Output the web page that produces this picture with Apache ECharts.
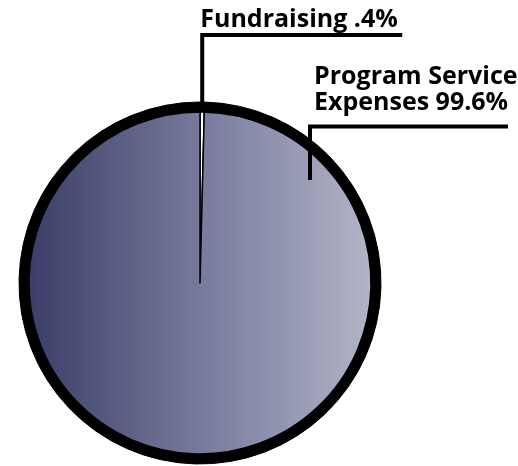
<!DOCTYPE html>
<html>
<head>
<meta charset="utf-8">
<script src="https://cdn.jsdelivr.net/npm/echarts@6/dist/echarts.min.js"></script>
<style>
html,body{margin:0;padding:0;background:#fff;}
#chart{width:518px;height:466px;}
</style>
</head>
<body>
<div id="chart"></div>
<script>
// ---- data ----
const categories = ['Fundraising', 'Program Service Expenses'];
const percents = [0.4, 99.6];
const labelTexts = ['Fundraising .4%', 'Program Service\nExpenses 99.6%'];

// ---- layout constants ----
const CX = 200, CY = 283;       // pie centre (px)
const R_FILL = 171;             // fill radius
const R_RING_IN = 170, R_RING_OUT = 181;

const chart = echarts.init(document.getElementById('chart'), null, {renderer: 'canvas'});

const total = percents.reduce((a, b) => a + b, 0);
function midAngle(i) {
  let cum = 0;
  for (let k = 0; k < i; k++) cum += percents[k];
  return ((cum + percents[i] / 2) / total) * 2 * Math.PI; // clockwise from top
}
function edgePoint(i, r) {
  const a = midAngle(i);
  return [CX + r * Math.sin(a), CY - r * Math.cos(a)];
}

const fillGradient = new echarts.graphic.LinearGradient(0, 0, 1, 0, [
  {offset: 0, color: '#3a3e68'},
  {offset: 0.5, color: '#777a9c'},
  {offset: 1, color: '#b2b4c7'}
]);
const sliceColors = ['#ffffff', fillGradient];

const labelFont = {
  fontFamily: '"Open Sans", sans-serif',
  fontWeight: 'bold',
  fontSize: 25,
  lineHeight: 26,
  color: '#000'
};

function layoutLabel(params) {
  const i = params.dataIndex;
  if (i === 0) {
    const p = edgePoint(0, R_RING_OUT - 4);
    const yLine = 35;
    return {
      x: p[0] - 2, y: yLine - 2, align: 'left', verticalAlign: 'bottom',
      labelLinePoints: [[p[0], p[1]], [p[0], yLine], [p[0] + 200, yLine]]
    };
  } else {
    const ax = CX + 110, ay = CY - 103;
    const yLine = 126.5;
    return {
      x: ax + 4, y: yLine - 11, align: 'left', verticalAlign: 'bottom',
      labelLinePoints: [[ax, ay], [ax, yLine], [ax + 198, yLine]]
    };
  }
}

const baseSeries = {
  type: 'pie',
  center: [CX, CY],
  startAngle: 90,
  clockwise: true,
  avoidLabelOverlap: false,
  silent: true
};

chart.setOption({
  animation: false,
  backgroundColor: '#fff',
  series: [
    // thick black rim
    Object.assign({}, baseSeries, {
      radius: [R_RING_IN, R_RING_OUT],
      z: 1,
      label: {show: false},
      labelLine: {show: false},
      itemStyle: {color: '#000', borderColor: '#000', borderWidth: 1},
      data: categories.map((c, i) => ({name: c, value: percents[i]}))
    }),
    // filled slices
    Object.assign({}, baseSeries, {
      radius: [0, R_FILL],
      z: 2,
      itemStyle: {borderColor: '#000', borderWidth: 1.5},
      label: {show: false},
      labelLine: {show: false},
      data: categories.map((c, i) => ({name: c, value: percents[i], itemStyle: {color: sliceColors[i]}}))
    }),
    // labels + leader lines on top
    Object.assign({}, baseSeries, {
      radius: [0, R_FILL],
      z: 3,
      itemStyle: {color: 'rgba(0,0,0,0)', borderWidth: 0},
      label: Object.assign({show: true, position: 'outside'}, labelFont),
      labelLine: {show: true, length: 20, length2: 20, lineStyle: {color: '#000', width: 4}},
      labelLayout: layoutLabel,
      data: categories.map((c, i) => ({name: c, value: percents[i], label: {formatter: labelTexts[i]}}))
    })
  ]
});
</script>
</body>
</html>
